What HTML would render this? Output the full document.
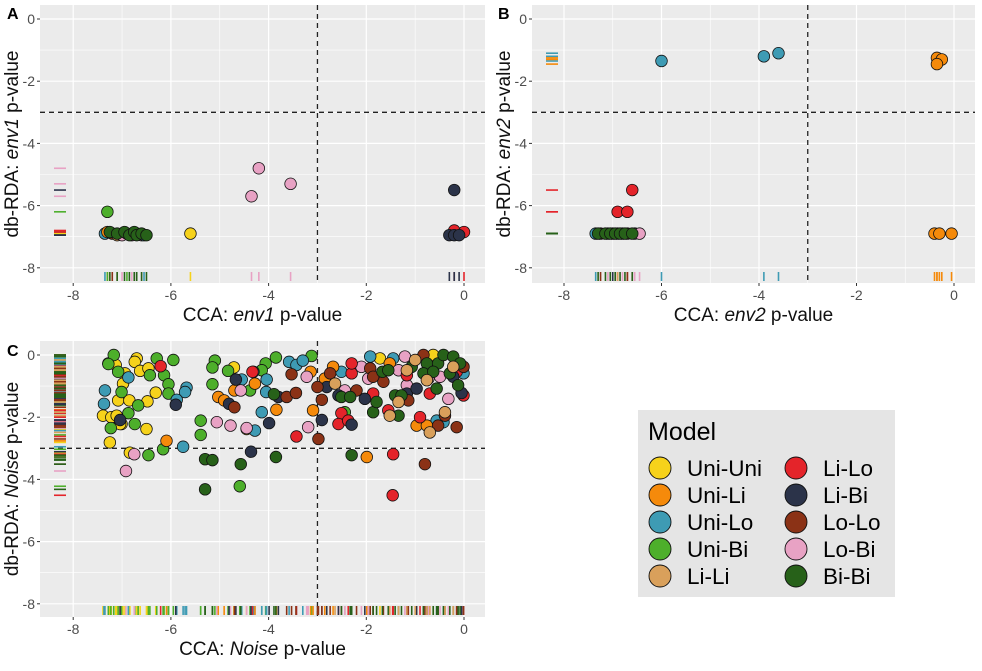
<!DOCTYPE html>
<html><head><meta charset="utf-8"><style>
body{margin:0;background:#fff;}
svg{display:block;font-family:"Liberation Sans",sans-serif;}
</style></head><body>
<svg id="fig" width="982" height="671" viewBox="0 0 982 671"></svg>
<script>
const groups=["Uni-Uni","Uni-Li","Uni-Lo","Uni-Bi","Li-Li","Li-Lo","Li-Bi","Lo-Lo","Lo-Bi","Bi-Bi"];
const colors=["#F6D21B","#F58A0B","#3E9BB4","#4DAF2B","#D9A05B","#E4242A","#2B3349","#8B3216","#E8A2C4","#276119"];
const xTicks=[-8,-6,-4,-2,0];
const yTicks=[0,-2,-4,-6,-8];
// panel A points: [cca, dbrda, groupIndex]
const ptsA=[[-7.35,-6.9,2],[-7.3,-6.85,1],[-7.2,-6.9,7],[-7.1,-6.95,4],[-7.0,-6.95,8],[-6.9,-6.9,3],[-6.8,-6.95,8],[-6.7,-6.9,7],[-6.6,-6.95,8],[-6.55,-6.95,2],[-7.3,-6.2,3],[-7.25,-6.85,9],[-7.1,-6.9,9],[-6.95,-6.85,9],[-6.85,-6.95,9],[-6.75,-6.85,9],[-6.7,-6.95,9],[-6.6,-6.9,9],[-6.5,-6.95,9],[-5.6,-6.9,0],[-4.2,-4.8,8],[-4.35,-5.7,8],[-3.55,-5.3,8],[-0.2,-5.5,6],[-0.2,-6.8,5],[0.0,-6.85,5],[-0.3,-6.95,6],[-0.2,-6.95,6],[-0.1,-6.95,6]];
const ptsB=[[-6.0,-1.35,2],[-3.9,-1.2,2],[-3.6,-1.1,2],[-0.35,-1.25,1],[-0.25,-1.3,1],[-0.35,-1.45,1],[-0.4,-6.9,1],[-0.3,-6.9,1],[-0.05,-6.9,1],[-6.6,-5.5,5],[-6.9,-6.2,5],[-6.7,-6.2,5],[-7.35,-6.9,2],[-7.25,-6.9,7],[-7.1,-6.9,8],[-7.0,-6.9,6],[-6.9,-6.9,4],[-6.8,-6.9,8],[-6.7,-6.9,7],[-6.55,-6.9,8],[-6.45,-6.9,8],[-7.3,-6.9,9],[-7.15,-6.9,9],[-7.05,-6.9,9],[-6.95,-6.9,9],[-6.85,-6.9,9],[-6.75,-6.9,9],[-6.6,-6.9,9]];
const ptsC=[
[-6.70,-0.11,0],[-6.74,-0.22,0],[-6.63,-0.51,0],[-6.46,-0.43,0],[-7.28,-0.27,0],[-7.13,-0.32,0],[-6.94,-0.59,0],[-6.98,-0.92,0],[-7.08,-1.46,0],[-6.85,-1.46,0],[-6.48,-1.49,0],[-6.31,-1.21,0],[-7.39,-1.95,0],[-7.22,-2.00,0],[-7.11,-1.95,0],[-7.01,-2.22,0],[-7.25,-2.81,0],[-6.50,-2.38,0],[-6.84,-3.14,0],[-7.04,-2.22,0],[-4.71,-0.40,0],[-4.45,-2.38,0],[-1.72,-0.11,0],[-0.63,0.00,0],
[-7.17,0.00,3],[-7.28,-0.29,3],[-7.08,-0.54,3],[-6.29,-0.11,3],[-5.95,-0.16,3],[-6.43,-0.65,3],[-6.14,-0.65,3],[-6.05,-0.94,3],[-6.05,-1.24,3],[-7.01,-1.19,3],[-6.67,-1.62,3],[-6.87,-1.87,3],[-6.74,-2.22,3],[-7.23,-2.35,3],[-5.39,-2.11,3],[-5.39,-2.57,3],[-6.16,-3.03,3],[-6.46,-3.22,3],[-5.10,-0.18,3],[-5.15,-0.40,3],[-5.15,-0.94,3],[-4.83,-0.51,3],[-4.38,-1.14,3],[-4.06,-0.27,3],[-4.14,-0.49,3],[-3.85,-0.08,3],[-3.12,-0.03,3],[-4.59,-4.22,3],[-2.44,-1.84,3],
[-7.35,-1.14,2],[-7.37,-1.57,2],[-6.87,-0.72,2],[-5.68,-1.05,2],[-5.71,-1.19,2],[-5.88,-1.44,2],[-5.75,-2.95,2],[-4.14,-1.84,2],[-4.28,-2.43,2],[-4.04,-0.79,2],[-4.05,-1.19,2],[-3.58,-0.22,2],[-3.43,-0.32,2],[-3.30,-0.18,2],[-4.55,-0.79,2],[-4.31,-0.54,2],[-1.92,-0.05,2],[-1.45,-0.11,2],[-2.51,-0.54,2],[-0.42,-2.16,2],[-0.56,-2.11,2],[-0.01,-0.59,2],
[-6.09,-2.76,1],[-5.03,-1.35,1],[-4.91,-1.46,1],[-4.70,-1.14,1],[-4.28,-0.92,1],[-3.84,-1.76,1],[-3.09,-1.78,1],[-3.14,-0.54,1],[-2.68,-0.38,1],[-1.99,-3.28,1],[-2.85,-0.76,1],[-0.97,-2.27,1],[-0.76,-2.27,1],[-1.52,-0.27,1],
[-6.92,-3.73,8],[-6.75,-3.19,8],[-5.06,-2.16,8],[-4.78,-2.27,8],[-4.45,-2.35,8],[-4.57,-1.14,8],[-3.19,-2.32,8],[-3.22,-0.70,8],[-2.44,-1.14,8],[-1.96,-0.76,8],[-2.10,-0.38,8],[-1.21,-0.05,8],[-1.34,-0.49,8],[-0.73,-0.76,8],[-0.49,-0.70,8],[-0.32,-1.41,8],[-1.17,-0.97,8],
[-6.21,-0.36,5],[-4.33,-0.54,5],[-3.43,-2.62,5],[-2.30,-0.59,5],[-2.51,-1.87,5],[-2.57,-2.22,5],[-2.37,-2.11,5],[-1.55,-1.78,5],[-1.45,-3.19,5],[-1.46,-4.51,5],[-0.90,-2.00,5],[-0.01,-1.30,5],[-0.70,-1.24,5],[-1.86,-1.24,5],[-2.30,-0.27,5],[-0.15,-0.54,5],[-1.17,-0.65,5],
[-7.04,-2.09,6],[-5.90,-1.60,6],[-4.67,-0.79,6],[-4.81,-1.57,6],[-4.36,-3.11,6],[-3.99,-2.19,6],[-3.80,-1.35,6],[-2.91,-2.09,6],[-2.30,-2.24,6],[-2.81,-1.03,6],[-2.57,-1.30,6],[-2.03,-1.41,6],[-1.17,-1.24,6],[-0.22,-0.70,6],[-0.97,-1.08,6],[-0.05,-1.22,6],
[-4.70,-1.68,7],[-3.53,-0.62,7],[-3.63,-1.35,7],[-3.44,-1.22,7],[-2.91,-1.44,7],[-2.98,-2.70,7],[-3.00,-1.03,7],[-2.74,-0.59,7],[-2.20,-1.14,7],[-1.92,-0.43,7],[-1.65,-0.86,7],[-1.14,-1.46,7],[-0.83,0.00,7],[-0.53,-2.27,7],[-0.39,-1.95,7],[-0.15,-2.32,7],[-0.80,-3.51,7],[-0.01,-0.38,7],[-1.86,-0.70,7],
[-5.30,-3.35,9],[-5.15,-3.38,9],[-4.57,-3.51,9],[-3.85,-3.28,9],[-3.89,-1.26,9],[-2.30,-3.22,9],[-2.51,-1.35,9],[-2.33,-1.35,9],[-1.86,-1.84,9],[-1.79,-1.51,9],[-1.41,-1.30,9],[-1.28,-1.30,9],[-1.34,-1.95,9],[-1.07,-0.38,9],[-0.76,-0.27,9],[-0.53,-0.27,9],[-0.42,0.00,9],[-0.22,-0.05,9],[-0.08,-0.27,9],[-0.56,-1.08,9],[-0.83,-0.59,9],[-0.29,-0.59,9],[-0.12,-0.97,9],[-0.63,-0.54,9],[-1.67,-0.54,9],[-1.55,-0.49,9],[-5.30,-4.32,9],
[-2.64,-0.92,4],[-1.52,-1.95,4],[-1.34,-1.51,4],[-0.70,-2.49,4],[-0.39,-1.84,4],[-1.17,-0.49,4],[-1.00,-0.16,4],[-0.76,-0.81,4],[-0.22,-0.38,4]
];
const NS="http://www.w3.org/2000/svg";
const svg=document.getElementById('fig');
function mk(tag,attrs,parent){const e=document.createElementNS(NS,tag);for(const k in attrs)e.setAttribute(k,attrs[k]);(parent||svg).appendChild(e);return e;}

function panel(cfg){
  const g=mk('g',{});
  
  
  const X=v=>cfg.x0+cfg.kx*v, Y=v=>cfg.y0-cfg.ky*v;
  const bg=mk('rect',{x:cfg.l,y:cfg.t,width:cfg.r-cfg.l,height:cfg.b-cfg.t,fill:'#ebebeb'},g);
  
  
  for(let i=0;i<xTicks.length-1;i++){const m=(xTicks[i]+xTicks[i+1])/2;mk('line',{x1:X(m),x2:X(m),y1:cfg.t,y2:cfg.b,stroke:'#fff','stroke-width':0.6},g);}
  for(let i=0;i<yTicks.length-1;i++){const m=(yTicks[i]+yTicks[i+1])/2;mk('line',{x1:cfg.l,x2:cfg.r,y1:Y(m),y2:Y(m),stroke:'#fff','stroke-width':0.6},g);}
  xTicks.forEach(v=>{
    mk('line',{x1:X(v),x2:X(v),y1:cfg.t,y2:cfg.b,stroke:'#fff','stroke-width':1.2},g);
    mk('line',{x1:X(v),x2:X(v),y1:cfg.b,y2:cfg.b+3,stroke:'#333','stroke-width':1},g);
    const t=mk('text',{x:X(v),y:cfg.b+17,'text-anchor':'middle','font-size':14,fill:'#4d4d4d'},g);t.textContent=v;
    
    
  });
  yTicks.forEach(v=>{
    mk('line',{x1:cfg.l,x2:cfg.r,y1:Y(v),y2:Y(v),stroke:'#fff','stroke-width':1.2},g);
    mk('line',{x1:cfg.l-3,x2:cfg.l,y1:Y(v),y2:Y(v),stroke:'#333','stroke-width':1},g);
    const t=mk('text',{x:cfg.l-5,y:Y(v)+5,'text-anchor':'end','font-size':14,fill:'#4d4d4d'},g);t.textContent=v;
    
    
  });
  const hl=mk('line',{x1:cfg.l,x2:cfg.r,y1:Y(-3),y2:Y(-3),stroke:'#222','stroke-width':1.3,'stroke-dasharray':'5 4'},g);
  
  
  const vl=mk('line',{x1:X(-3),x2:X(-3),y1:cfg.t,y2:cfg.b,stroke:'#222','stroke-width':1.3,'stroke-dasharray':'5 4'},g);
  
  
  cfg.pts.forEach(p=>{
    const rb=mk('line',{x1:X(p[0]),x2:X(p[0]),y1:cfg.b-11,y2:cfg.b-2,stroke:colors[p[2]],'stroke-width':1.6},g);
    
    
    const rl=mk('line',{x1:cfg.l+14,x2:cfg.l+26,y1:Y(p[1]),y2:Y(p[1]),stroke:colors[p[2]],'stroke-width':1.6},g);
    
    
  });
  cfg.pts.forEach(p=>{
    const c=mk('circle',{cx:X(p[0]),cy:Y(p[1]),r:5.8,fill:colors[p[2]],stroke:'#111','stroke-width':0.8},g);
    
    
  });
  const xt=mk('text',{x:(cfg.l+cfg.r)/2,y:cfg.b+38,'text-anchor':'middle','font-size':19,fill:'#111'},g);
  xt.innerHTML='CCA: <tspan font-style="italic">'+cfg.v+'</tspan> p-value';
  
  
  const cy=(cfg.t+cfg.b)/2, yx=cfg.l-22;
  const yt=mk('text',{x:yx,y:cy,'text-anchor':'middle','font-size':19,fill:'#111',transform:`rotate(-90 ${yx} ${cy})`},g);
  yt.innerHTML='db-RDA: <tspan font-style="italic">'+cfg.v+'</tspan> p-value';
  
  
  const lt=mk('text',{x:cfg.lx,y:cfg.ly,'font-size':16,'font-weight':'bold',fill:'#000'},g);lt.textContent=cfg.id;
  
  
}
panel({id:'A',v:'env1',l:40,r:485,t:5,b:283,x0:464,kx:48.85,y0:19,ky:31.1,pts:ptsA,lx:7,ly:19});
panel({id:'B',v:'env2',l:532,r:975,t:5,b:283,x0:954,kx:48.75,y0:19,ky:31.1,pts:ptsB,lx:498,ly:19});
panel({id:'C',v:'Noise',l:40,r:485,t:341,b:617,x0:464,kx:48.85,y0:355,ky:31.1,pts:ptsC,lx:7,ly:356});

const lg=mk('g',{});


mk('rect',{x:638,y:410,width:257,height:187,fill:'#e5e5e5'},lg);
const tt=mk('text',{x:648,y:440,'font-size':25,fill:'#000'},lg);tt.textContent='Model';


groups.forEach((gname,i)=>{
  const col=Math.floor(i/5), row=i%5;
  const cx=660+col*136, cy=468+row*27;
  const e=mk('g',{},lg);
  
  
  mk('circle',{cx:cx,cy:cy,r:11,fill:colors[i],stroke:'#111','stroke-width':0.9},e);
  const t=mk('text',{x:cx+27,y:cy+8,'font-size':22.5,fill:'#000'},e);t.textContent=gname;
});
</script>
</body></html>
